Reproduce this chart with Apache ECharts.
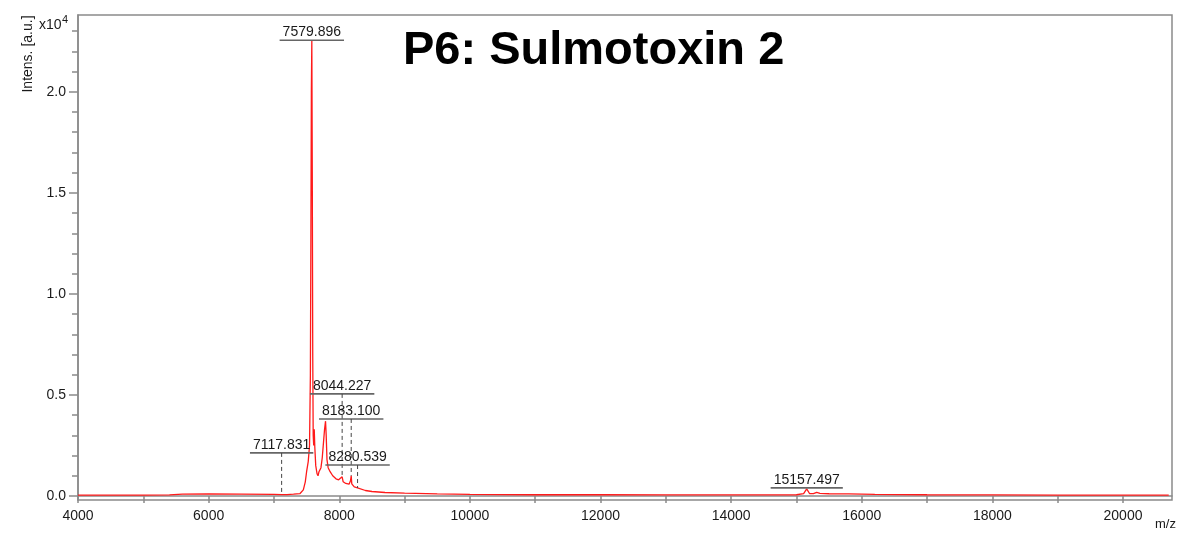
<!DOCTYPE html>
<html>
<head>
<meta charset="utf-8">
<script src="https://cdn.jsdelivr.net/npm/echarts@6/dist/echarts.min.js"></script>
<style>
html, body { margin: 0; padding: 0; background: #fff; }
#container { width: 1179px; height: 533px; }
</style>
</head>
<body>
<div id="container"></div>
<script>
// spectrum (intensity in units of 1e4)
var mzValues = [4000, 4500, 5000, 5400, 5600, 6000, 6500, 7000, 7117, 7200, 7300, 7400, 7450, 7480, 7500, 7525, 7545,
    7558, 7566, 7573, 7580, 7587, 7594, 7601, 7609, 7617, 7626, 7640, 7660, 7675, 7690, 7705, 7720, 7740, 7760, 7775,
    7790, 7800, 7812, 7830, 7860, 7900, 7950, 7990, 8020, 8044, 8060, 8100, 8150, 8172, 8183, 8192, 8230, 8280, 8300,
    8400, 8500, 8700, 9000, 9500, 10000, 10500, 11000, 11500, 12000, 13000, 14000, 14800, 15000, 15110, 15157, 15200,
    15260, 15310, 15360, 15500, 15800, 16200, 17000, 18000, 19000, 20000, 20700];
var intensityValues = [0.004, 0.004, 0.004, 0.005, 0.009, 0.010, 0.009, 0.008, 0.007, 0.007, 0.009, 0.012, 0.03, 0.07, 0.12, 0.17, 0.25,
    0.6, 1.3, 2.0, 2.255, 1.6, 0.7, 0.3, 0.25, 0.33, 0.24, 0.15, 0.11, 0.10, 0.12, 0.12, 0.14, 0.19, 0.27, 0.33,
    0.37, 0.30, 0.18, 0.14, 0.12, 0.10, 0.085, 0.08, 0.085, 0.095, 0.07, 0.062, 0.058, 0.075, 0.10, 0.06, 0.045, 0.04, 0.035,
    0.027, 0.022, 0.017, 0.014, 0.010, 0.008, 0.007, 0.006, 0.007, 0.006, 0.005, 0.005, 0.005, 0.006, 0.012, 0.035, 0.012,
    0.012, 0.018, 0.013, 0.011, 0.010, 0.008, 0.006, 0.005, 0.004, 0.004, 0.004];

// annotated peaks: m/z, top of the peak, height of the label underline
var peakMz = [7117.831, 7579.896, 8044.227, 8183.100, 8280.539, 15157.497];
var peakTop = [0.007, 2.255, 0.095, 0.10, 0.04, 0.035];
var peakLabelY = [0.213, 2.255, 0.505, 0.381, 0.153, 0.040];

var xTickValues = [4000, 5000, 6000, 7000, 8000, 9000, 10000, 11000, 12000, 13000, 14000, 15000, 16000, 17000, 18000, 19000, 20000];
var xLabelValues = [4000, 6000, 8000, 10000, 12000, 14000, 16000, 18000, 20000];
var yLabelValues = [0, 0.5, 1.0, 1.5, 2.0];
var yMinorValues = [0.1, 0.2, 0.3, 0.4, 0.6, 0.7, 0.8, 0.9, 1.1, 1.2, 1.3, 1.4, 1.6, 1.7, 1.8, 1.9, 2.1, 2.2, 2.3];

var FONT = '"Liberation Sans", Arial, sans-serif';
var axisGrey = '#8a8a8a';

var measureCtx = document.createElement('canvas').getContext('2d');
measureCtx.font = '14px ' + FONT;

function renderPeakLabel(params, api) {
    var m = api.value(0);
    var base = api.coord([m, api.value(2)]);
    var tip = api.coord([m, api.value(1)]);
    var txt = m.toFixed(3);
    var w = measureCtx.measureText(txt).width + 6;
    var children = [
        {
            type: 'line',
            shape: { x1: base[0] - w / 2, y1: base[1], x2: base[0] + w / 2, y2: base[1] },
            style: { stroke: '#666', lineWidth: 1.6 }
        },
        {
            type: 'text',
            style: {
                text: txt, x: base[0], y: base[1] - 1,
                align: 'center', verticalAlign: 'bottom',
                fontSize: 14, fontFamily: FONT, fill: '#1a1a1a'
            }
        }
    ];
    if (tip[1] - base[1] > 3) {
        children.push({
            type: 'line',
            shape: { x1: base[0], y1: base[1], x2: tip[0], y2: tip[1] },
            style: { stroke: '#444', lineWidth: 1, lineDash: [4, 3] }
        });
    }
    return { type: 'group', children: children };
}

var myChart = echarts.init(document.getElementById('container'), null, { renderer: 'canvas' });

myChart.setOption({
    animation: false,
    backgroundColor: '#fff',
    textStyle: { fontFamily: FONT },
    grid: {
        left: 78, right: 7, top: 15, bottom: 33,
        show: true, borderColor: axisGrey, borderWidth: 1.5,
        outerBoundsMode: 'none'
    },
    xAxis: {
        type: 'value',
        min: 4000,
        max: 20750,
        axisLine: { show: true, lineStyle: { color: axisGrey, width: 1.5 } },
        axisTick: { show: true, customValues: xTickValues, length: 7, lineStyle: { color: axisGrey, width: 1.5 } },
        axisLabel: {
            customValues: xLabelValues, margin: 9, fontSize: 14, color: '#1a1a1a', fontFamily: FONT,
            formatter: function (v) { return String(v); }
        },
        splitLine: { show: false }
    },
    yAxis: [
        {
            type: 'value',
            min: -0.02,
            max: 2.38,
            axisLine: { show: true, lineStyle: { color: axisGrey, width: 1.5 } },
            axisTick: { show: true, customValues: yLabelValues, length: 9, lineStyle: { color: axisGrey, width: 1.5 } },
            axisLabel: {
                customValues: yLabelValues, margin: 12, fontSize: 14, color: '#1a1a1a', fontFamily: FONT,
                formatter: function (v) { return v.toFixed(1); }
            },
            splitLine: { show: false }
        },
        {
            type: 'value',
            position: 'left',
            min: -0.02,
            max: 2.38,
            axisLine: { show: false },
            axisTick: { show: true, customValues: yMinorValues, length: 6, lineStyle: { color: axisGrey, width: 1.5 } },
            axisLabel: { show: false },
            splitLine: { show: false }
        }
    ],
    graphic: [
        {
            type: 'text', x: 403, y: 51,
            style: { text: 'P6: Sulmotoxin 2', fontSize: 47, fontWeight: 'bold', fontFamily: FONT, fill: '#000', align: 'left', verticalAlign: 'middle' }
        },
        {
            type: 'text', x: 28, y: 54, rotation: Math.PI / 2,
            style: { text: 'Intens. [a.u.]', fontSize: 14, fontFamily: FONT, fill: '#1a1a1a', align: 'center', verticalAlign: 'middle' }
        },
        {
            type: 'text', x: 39, y: 25,
            style: { text: 'x10', fontSize: 14, fontFamily: FONT, fill: '#1a1a1a', align: 'left', verticalAlign: 'middle' }
        },
        {
            type: 'text', x: 62, y: 20,
            style: { text: '4', fontSize: 11, fontFamily: FONT, fill: '#1a1a1a', align: 'left', verticalAlign: 'middle' }
        },
        {
            type: 'text', x: 1155, y: 524,
            style: { text: 'm/z', fontSize: 13, fontFamily: FONT, fill: '#1a1a1a', align: 'left', verticalAlign: 'middle' }
        }
    ],
    series: [
        {
            name: 'spectrum',
            type: 'line',
            data: mzValues.map(function (m, i) { return [m, intensityValues[i]]; }),
            showSymbol: false,
            symbol: 'none',
            lineStyle: { color: '#ff1a1a', width: 1.3 },
            z: 2
        },
        {
            name: 'peaks',
            type: 'custom',
            renderItem: renderPeakLabel,
            data: peakMz.map(function (m, i) { return [m, peakTop[i], peakLabelY[i]]; }),
            encode: { x: 0, y: 1 },
            clip: false,
            z: 3
        }
    ]
});
</script>
</body>
</html>
